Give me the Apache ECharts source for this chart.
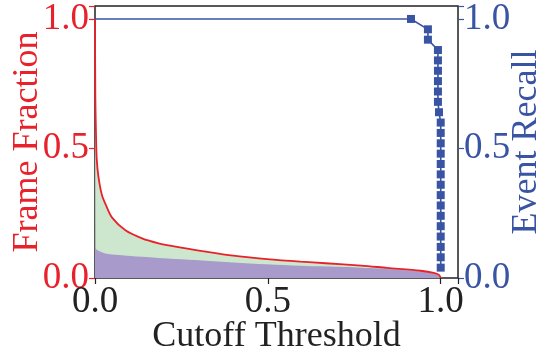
<!DOCTYPE html>
<html>
<head>
<meta charset="utf-8">
<script src="https://cdn.jsdelivr.net/npm/echarts@6/dist/echarts.min.js"></script>
<style>
  html, body { margin: 0; padding: 0; background: #fff; }
  #chart { width: 547px; height: 360px; }
</style>
</head>
<body>
<div id="chart"></div>
<script>
// Fraction of frames kept at each cutoff threshold
const frameThreshold = [0, 0.001, 0.003, 0.005, 0.01, 0.02, 0.032, 0.05, 0.088, 0.136, 0.184, 0.233, 0.31, 0.4, 0.497, 0.594, 0.667, 0.77, 0.845, 0.942, 0.98, 0.995, 1.0];
const frameFraction  = [1.0, 0.7, 0.55, 0.46, 0.39, 0.32, 0.28, 0.232, 0.184, 0.153, 0.134, 0.121, 0.104, 0.086, 0.073, 0.063, 0.057, 0.048, 0.039, 0.028, 0.02, 0.012, 0.0];

// Lower band (frames containing events)
const eventFrameThreshold = [0, 0.01, 0.03, 0.069, 0.136, 0.233, 0.31, 0.4, 0.497, 0.594, 0.667, 0.77, 0.87, 0.942, 0.98, 0.995, 1.0];
const eventFrameFraction  = [0.115, 0.105, 0.095, 0.089, 0.082, 0.073, 0.068, 0.06, 0.053, 0.047, 0.044, 0.04, 0.033, 0.025, 0.018, 0.01, 0.0];

// Event recall at each cutoff
const recallThreshold = [0, 0.914, 0.963, 0.963, 0.992, 0.992, 0.992, 0.992, 0.992, 0.992, 0.995, 1.0, 1.0, 1.0, 1.0, 1.0, 1.0, 1.0, 1.0, 1.0, 1.0, 1.0, 1.0, 1.0, 1.0, 1.0];
const eventRecall     = [1.0, 1.0, 0.96, 0.92, 0.88, 0.84, 0.80, 0.76, 0.72, 0.68, 0.64, 0.60, 0.56, 0.52, 0.48, 0.44, 0.40, 0.36, 0.32, 0.28, 0.24, 0.20, 0.16, 0.12, 0.08, 0.04];

const tickValues = [0, 0.5, 1.0];

const RED = '#e8222a';
const BLUE = '#3a54a4';
const FONT = 'Liberation Serif';

const pairs = (xs, ys) => xs.map((x, i) => [x, ys[i]]);
const fmt = v => tickValues.some(t => Math.abs(t - v) < 1e-6) ? v.toFixed(1) : '';

const recallData = pairs(recallThreshold, eventRecall).map((p, i) =>
  i === 0 ? { value: p, symbol: 'none' } : { value: p });

const chart = echarts.init(document.getElementById('chart'), null, { renderer: 'canvas' });
chart.setOption({
  animation: false,
  grid: {
    left: 95, right: 89, top: 6, bottom: 82,
    containLabel: false, outerBoundsMode: 'none',
    show: true, borderColor: '#222', borderWidth: 1.5, backgroundColor: 'transparent'
  },
  xAxis: {
    type: 'value', min: 0, max: 1.05, interval: 0.5,
    name: 'Cutoff Threshold', nameLocation: 'middle', nameGap: 41, nameMoveOverlap: false,
    nameTextStyle: { fontFamily: FONT, fontSize: 36, color: '#222' },
    axisLine: { show: false },
    axisTick: { show: true, length: 6, lineStyle: { color: '#222', width: 1.2 } },
    axisLabel: { formatter: fmt, fontFamily: FONT, fontSize: 37, color: '#222', margin: 6 },
    splitLine: { show: false }
  },
  yAxis: [
    {
      type: 'value', min: 0, max: 1.05, interval: 0.5, position: 'left',
      name: 'Frame Fraction', nameLocation: 'middle', nameGap: 49, nameRotate: 90, nameMoveOverlap: false,
      nameTextStyle: { fontFamily: FONT, fontSize: 36, color: RED },
      axisLine: { show: false },
      axisTick: { show: true, length: 6, lineStyle: { color: RED, width: 1.2 } },
      axisLabel: { formatter: fmt, fontFamily: FONT, fontSize: 37, color: RED, margin: 6 },
      splitLine: { show: false }
    },
    {
      type: 'value', min: 0, max: 1.05, interval: 0.5, position: 'right',
      name: 'Event Recall', nameLocation: 'middle', nameGap: 51, nameRotate: 90, nameMoveOverlap: false,
      nameTextStyle: { fontFamily: FONT, fontSize: 36, color: BLUE },
      axisLine: { show: false },
      axisTick: { show: true, length: 6, lineStyle: { color: BLUE, width: 1.2 } },
      axisLabel: { formatter: fmt, fontFamily: FONT, fontSize: 37, color: BLUE, margin: 6 },
      splitLine: { show: false }
    }
  ],
  series: [
    {
      type: 'line', data: pairs(frameThreshold, frameFraction), smooth: 0.3,
      showSymbol: false, lineStyle: { width: 0 },
      areaStyle: { color: '#cce7ce', opacity: 1 }, z: 1
    },
    {
      type: 'line', data: pairs(eventFrameThreshold, eventFrameFraction), smooth: 0.3,
      showSymbol: false, lineStyle: { width: 0 },
      areaStyle: { color: '#a89bcb', opacity: 1 }, z: 2
    },
    {
      type: 'line', data: pairs(frameThreshold, frameFraction), smooth: 0.3,
      showSymbol: false, lineStyle: { color: RED, width: 1.8 }, z: 3
    },
    {
      type: 'line', yAxisIndex: 1, data: recallData,
      symbol: 'rect', symbolSize: 8, showAllSymbol: true,
      itemStyle: { color: BLUE }, lineStyle: { color: BLUE, width: 1.6 }, z: 4
    }
  ]
});
</script>
</body>
</html>
